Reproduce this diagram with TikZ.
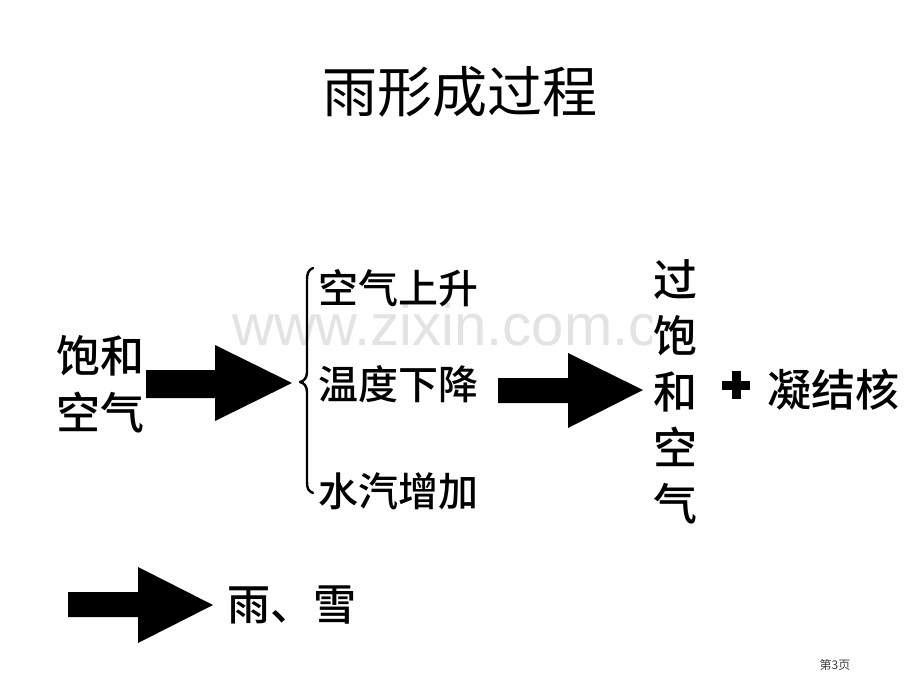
\documentclass[tikz,border=0pt]{standalone}
\usepackage{fontspec}
\newfontfamily\cjk{Noto Sans CJK SC}
\newfontfamily\cjkm{Noto Sans CJK SC Medium}
\newfontfamily\wmfont{Liberation Sans}
\begin{document}
\begin{tikzpicture}[x=1pt,y=-1pt,
  body/.style={font=\cjkm\fontsize{40}{56}\selectfont, inner sep=0pt, text=black},
  big/.style={font=\cjkm\fontsize{44}{57}\selectfont},
  blockarrow/.style={fill=black},
  bracepath/.style={draw=black, line width=2.4pt, line cap=round, line join=round}]
\useasboundingbox[fill=white] (0,0) rectangle (920,690);
% watermark
\node[anchor=base west, inner sep=0pt, font=\wmfont\fontsize{58}{58}\selectfont, text=black!11] (wm) at (232,345) {www.zixin.com.cn};
% title
\node[inner sep=0pt, font=\cjk\fontsize{55}{60}\selectfont] (title) at (460,92) {雨形成过程};
% left text
\node[body, big, align=left] (sat) at (100,384) {饱和\\空气};
% arrow 1
\fill[blockarrow] (146,370) -- (215,370) -- (215,345) -- (292,383) -- (215,421) -- (215,398) -- (146,398) -- cycle;
% brace
\draw[bracepath] (313,268) .. controls (308,270) and (307,274) .. (307,280)
  -- (307,372) .. controls (307,378) and (304,381) .. (300,382)
  .. controls (304,383) and (307,386) .. (307,392)
  -- (307,482) .. controls (307,488) and (308,491) .. (313,493);
% three conditions
\node[body, anchor=west] (c1) at (318,288) {空气上升};
\node[body, anchor=west] (c2) at (318,384) {温度下降};
\node[body, anchor=west] (c3) at (318,491) {水汽增加};
% arrow 2
\fill[blockarrow] (498,378) -- (568,378) -- (568,353) -- (643,390) -- (568,428) -- (568,403) -- (498,403) -- cycle;
% vertical text
\node[body, align=center, fill=white, inner xsep=1pt, font=\cjkm\fontsize{44}{56}\selectfont] (super) at (675,392) {过\\饱\\和\\空\\气};
% plus
\node[inner sep=0pt] (plus) at (736,385) {\tikz[x=1pt,y=1pt]{\fill (-14,-4.5) rectangle (14,4.5); \fill (-4.5,-14) rectangle (4.5,14);}};
\node[body, big, anchor=west] (nuc) at (767,390) {凝结核};
% arrow 3
\fill[blockarrow] (68,592) -- (138,592) -- (138,567) -- (213,605) -- (138,643) -- (138,617) -- (68,617) -- cycle;
\node[body, anchor=west, font=\cjkm\fontsize{43}{50}\selectfont] (res) at (227,605) {雨、雪};
% page number
\node[inner sep=0pt, font=\cjk\fontsize{12}{14}\selectfont, text=black!75] (page) at (835,665) {第3页};
\end{tikzpicture}
\end{document}
